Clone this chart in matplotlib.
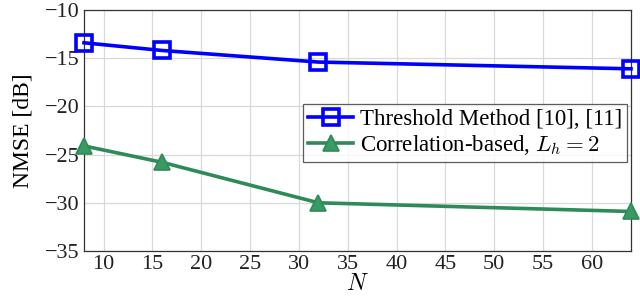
import matplotlib
matplotlib.use("Agg")
import matplotlib.pyplot as plt

# data
n_values = [8, 16, 32, 64]
threshold_nmse = [-13.4, -14.2, -15.4, -16.1]
correlation_nmse = [-24.1, -25.8, -30.0, -30.9]

plt.rcParams['font.family'] = ['Liberation Serif', 'DejaVu Serif']
plt.rcParams['mathtext.fontset'] = 'cm'
plt.rcParams['font.size'] = 16

fig = plt.figure(figsize=(6.4, 3.0), dpi=100)
ax = fig.add_axes([84 / 640, 1 - 251 / 300, (631 - 84) / 640, (251 - 10) / 300])

ax.plot(n_values, threshold_nmse, color='#0000ff', linewidth=2.6, marker='s',
        markersize=11, markerfacecolor='none', markeredgewidth=2.6,
        label='Threshold Method [10], [11]', clip_on=False, zorder=3)
ax.plot(n_values, correlation_nmse, color='#2e8b57', linewidth=2.6, marker='^',
        markersize=11, markerfacecolor='#3a9a63', markeredgewidth=1.2,
        label=r'Correlation-based, $L_h=2$', clip_on=False, zorder=3)

ax.set_xlim(8, 64)
ax.set_ylim(-35, -10)
ax.set_xticks(range(10, 65, 5))
ax.set_yticks(range(-35, -9, 5))
ax.grid(True, color='#d9d9d9', linewidth=0.9)
ax.set_axisbelow(True)
ax.tick_params(direction='in', length=0, labelsize=16, colors='#222222', pad=3)
for s in ax.spines.values():
    s.set_color('#333333')
    s.set_linewidth(0.9)

ax.set_xlabel(r'$N$', fontsize=17, labelpad=0)
ax.set_ylabel('NMSE [dB]', fontsize=17, labelpad=8)

leg = ax.legend(loc='upper right', bbox_to_anchor=(0.993, 0.61), fontsize=16.5,
                frameon=True, fancybox=False, edgecolor='#333333',
                handlelength=2.0, handletextpad=0.3, borderpad=0.2,
                labelspacing=0.15, borderaxespad=0)
leg.get_frame().set_linewidth(0.9)

fig.savefig('out.png', dpi=100)
